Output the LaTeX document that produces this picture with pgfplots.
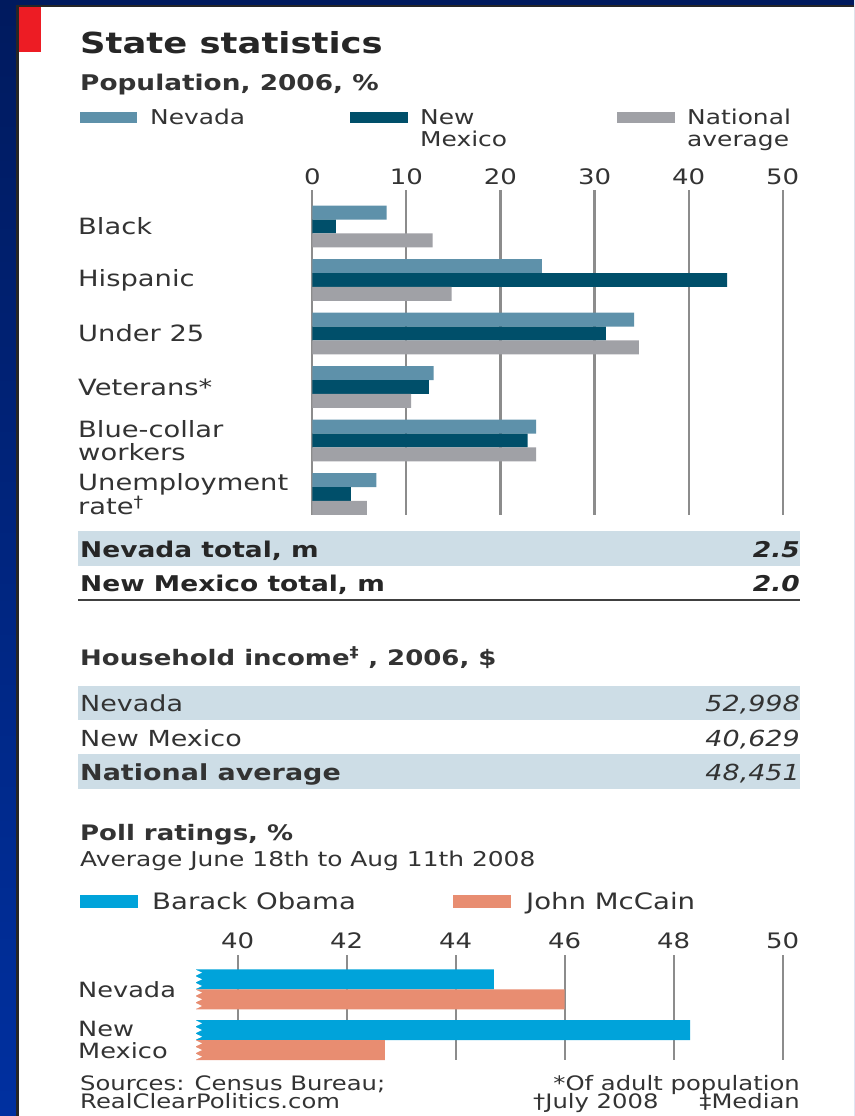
\documentclass[border=0pt]{standalone}
\usepackage{fontspec}
\setmainfont{DejaVu Sans}[FakeStretch=1.22]
\usepackage{pgfplots}
\pgfplotsset{compat=1.18}

\definecolor{nvcol}{RGB}{94,145,170}
\definecolor{nmcol}{RGB}{0,79,106}
\definecolor{natcol}{RGB}{160,161,166}
\definecolor{obcol}{RGB}{0,163,218}
\definecolor{mccol}{RGB}{232,141,113}
\definecolor{band}{RGB}{205,221,230}
\definecolor{gridc}{RGB}{140,140,140}
\definecolor{txt}{RGB}{51,51,51}
\definecolor{navytop}{RGB}{0,26,94}
\definecolor{navybot}{RGB}{0,48,160}
\definecolor{ecored}{RGB}{237,28,36}

\newcommand\fs[1]{\fontsize{#1}{#1}\selectfont}
\tikzset{lab/.style={inner sep=0pt, text=txt}}

\begin{document}
\begin{tikzpicture}
% frame
\shade[top color=navytop, bottom color=navybot] (0pt,0pt) rectangle (854pt,-1116pt);
\useasboundingbox (0pt,0pt) rectangle (854pt,-1116pt);
\fill[black!85] (16pt,-5pt) rectangle (854pt,-1116pt);
\fill[white] (19pt,-7pt) rectangle (854pt,-1116pt);
\fill[ecored] (19pt,-7pt) rectangle (41pt,-52pt);

% titles
\node[lab, anchor=base west, font=\bfseries\fs{29}, text=black!85] at (80pt,-53pt) {State statistics};
\node[lab, anchor=base west, font=\bfseries\fs{21.6}] at (80pt,-90pt) {Population, 2006, \%};

% legend, population
\fill[nvcol]  (80pt,-112pt) rectangle (137pt,-123pt);
\fill[nmcol]  (350pt,-112pt) rectangle (408pt,-123pt);
\fill[natcol] (617pt,-112pt) rectangle (675pt,-123pt);
\node[lab, anchor=base west, font=\fs{20.4}] at (150pt,-124pt) {Nevada};
\node[lab, anchor=base west, font=\fs{20.4}] at (420pt,-124pt) {New};
\node[lab, anchor=base west, font=\fs{20.4}] at (420pt,-146pt) {Mexico};
\node[lab, anchor=base west, font=\fs{20.4}] at (687pt,-124pt) {National};
\node[lab, anchor=base west, font=\fs{20.4}] at (687pt,-146pt) {average};

\begin{axis}[
  at={(312.3pt,-190pt)}, anchor=north west,
  scale only axis, width=470.4pt, height=325pt,
  xbar, bar width=13.9pt,
  xmin=0, xmax=50, ymin=-0.682, ymax=5.393, y dir=reverse,
  axis line style={draw=none},
  major tick length=0pt,
  xtick={0,10,20,30,40,50},
  xticklabels={0,10,20,30,40,50},
  xticklabel pos=upper,
  xmajorgrids,
  grid style={gridc, line width=2.2pt},
  xticklabel style={font=\fs{21.3}, text=txt, anchor=base, inner sep=0pt, yshift=6pt},
  ytick={0,1,2,3,4,5},
  yticklabels={Black, Hispanic, Under 25, Veterans*, Blue-collar\\workers, Unemployment\\rate\textsuperscript{†}},
  yticklabel style={font=\fontsize{22.4}{23}\selectfont, text=txt, anchor=west, align=left, inner sep=0pt, xshift=-234.3pt},
]
\addplot[draw=none, fill=nvcol, bar shift=13.9pt] coordinates {
  (7.9,0) (24.4,1) (34.2,2) (12.9,3) (23.8,4) (6.8,5)};
\addplot[draw=none, fill=nmcol, bar shift=0pt] coordinates {
  (2.5,0) (44.1,1) (31.2,2) (12.4,3) (22.9,4) (4.1,5)};
\addplot[draw=none, fill=natcol, bar shift=-13.9pt] coordinates {
  (12.8,0) (14.8,1) (34.7,2) (10.5,3) (23.8,4) (5.8,5)};
\end{axis}

% totals
\fill[band] (78pt,-531pt) rectangle (800pt,-566pt);
\node[lab, anchor=base west, font=\bfseries\fs{21.7}, text=black!85] at (80pt,-557pt) {Nevada total, m};
\node[lab, anchor=base east, font=\bfseries\itshape\fs{21.7}, text=black!85] at (800pt,-557pt) {2.5};
\node[lab, anchor=base west, font=\bfseries\fs{21.7}, text=black!85] at (80pt,-591pt) {New Mexico total, m};
\node[lab, anchor=base east, font=\bfseries\itshape\fs{21.7}, text=black!85] at (800pt,-591pt) {2.0};
\draw[black!75, line width=2.6pt] (78pt,-600pt) -- (800pt,-600pt);

% household income
\node[lab, anchor=base west, font=\bfseries\fs{21.3}] at (80pt,-665pt) {Household income\textsuperscript{‡} , 2006, \$};
\fill[band] (78pt,-686pt) rectangle (800pt,-720pt);
\fill[band] (78pt,-754pt) rectangle (800pt,-789pt);
\node[lab, anchor=base west, font=\fs{22.1}] at (80pt,-711pt) {Nevada};
\node[lab, anchor=base east, font=\itshape\fs{22.1}] at (800pt,-711pt) {52,998};
\node[lab, anchor=base west, font=\fs{22.1}] at (80pt,-746pt) {New Mexico};
\node[lab, anchor=base east, font=\itshape\fs{22.1}] at (800pt,-746pt) {40,629};
\node[lab, anchor=base west, font=\bfseries\fs{22.1}] at (80pt,-780pt) {National average};
\node[lab, anchor=base east, font=\itshape\fs{22.1}] at (800pt,-780pt) {48,451};

% poll ratings
\node[lab, anchor=base west, font=\bfseries\fs{21.3}] at (80pt,-840pt) {Poll ratings, \%};
\node[lab, anchor=base west, font=\fs{20.4}] at (80pt,-866pt) {Average June 18th to Aug 11th 2008};
\fill[obcol] (80pt,-895pt) rectangle (138pt,-908pt);
\fill[mccol] (453pt,-895pt) rectangle (511pt,-908pt);
\node[lab, anchor=base west, font=\fs{22.6}] at (152pt,-909pt) {Barack Obama};
\node[lab, anchor=base west, font=\fs{22.6}] at (526pt,-909pt) {John McCain};

\begin{axis}[
  at={(196pt,-955pt)}, anchor=north west,
  scale only axis, width=586.7pt, height=105pt,
  xbar, bar width=20pt,
  xmin=39.235, xmax=50, ymin=-0.677, ymax=1.394, y dir=reverse,
  axis line style={draw=none},
  major tick length=0pt,
  xtick={40,42,44,46,48,50},
  xticklabels={40,42,44,46,48,50},
  xticklabel pos=upper,
  xmajorgrids,
  grid style={gridc, line width=2.2pt},
  xticklabel style={font=\fs{21.3}, text=txt, anchor=base, inner sep=0pt, yshift=7pt},
  ytick={0,1},
  yticklabels={Nevada, New\\Mexico},
  yticklabel style={font=\fontsize{21}{22}\selectfont, text=txt, anchor=west, align=left, inner sep=0pt, xshift=-118pt},
]
\addplot[draw=none, fill=obcol, bar shift=10pt] coordinates {(44.7,0) (48.3,1)};
\addplot[draw=none, fill=mccol, bar shift=-10pt] coordinates {(46.0,0) (42.7,1)};
\end{axis}

% broken-axis teeth on the poll bars
\foreach \y in {969.3,1020} {
  \foreach \i in {0,...,5} {
    \fill[white] (195pt,{-(\y+\i*6.67)*1pt}) -- (202pt,{-(\y+\i*6.67+3.33)*1pt}) -- (195pt,{-(\y+\i*6.67+6.67)*1pt}) -- cycle;
  }
}

% footnotes
\node[lab, anchor=base west, font=\fs{19.9}] at (80pt,-1090pt) {Sources: Census Bureau;};
\node[lab, anchor=base west, font=\fs{19.9}] at (80pt,-1108pt) {RealClearPolitics.com};
\node[lab, anchor=base east, font=\fs{19.9}] at (800pt,-1090pt) {*Of adult population};
\node[lab, anchor=base west, font=\fs{19.9}] at (533pt,-1108pt) {†July 2008};
\node[lab, anchor=base east, font=\fs{19.9}] at (800pt,-1108pt) {‡Median};
\end{tikzpicture}
\end{document}
